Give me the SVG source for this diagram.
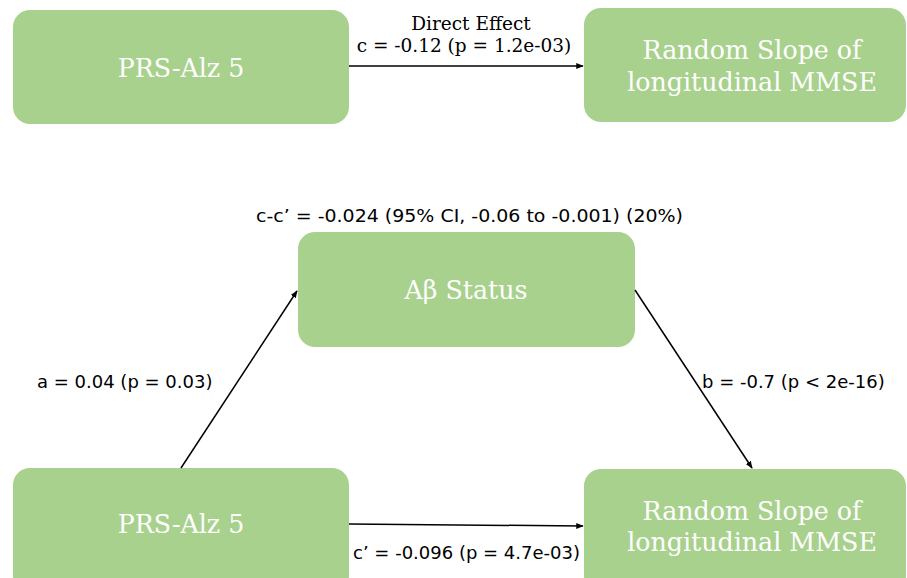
<svg xmlns="http://www.w3.org/2000/svg" width="907" height="578" viewBox="0 0 907 578">
  <style>
    .box { fill: #A9D18E; }
    .nodetext { font-family: "DejaVu Serif", "Liberation Serif", serif; font-size: 25.3px; fill: #ffffff; text-anchor: middle; }
    .edge { stroke: #000000; stroke-width: 1.5; fill: none; marker-end: url(#arrow); }
    .lbl { font-family: "DejaVu Sans", "Liberation Sans", sans-serif; font-size: 18px; fill: #000000; }
    .lblserif { font-family: "DejaVu Serif", "Liberation Serif", serif; font-size: 18.5px; fill: #000000; text-anchor: middle; }
  </style>
  <defs>
    <marker id="arrow" viewBox="0 0 10 10" refX="9" refY="5" markerWidth="5" markerHeight="5" orient="auto" markerUnits="strokeWidth">
      <path d="M0,1 L10,5 L0,9 z" fill="#000000"/>
    </marker>
  </defs>
  <rect width="907" height="578" fill="#ffffff"/>

  <!-- total effect model -->
  <g id="prs-top">
    <rect class="box" x="13" y="10" width="336" height="114" rx="17"/>
    <text class="nodetext" x="181" y="77">PRS-Alz 5</text>
  </g>
  <g id="mmse-top">
    <rect class="box" x="584" y="8" width="322" height="114" rx="17"/>
    <text class="nodetext" x="752" y="59">Random Slope of</text>
    <text class="nodetext" x="752" y="91">longitudinal MMSE</text>
  </g>

  <!-- mediation model -->
  <g id="abeta">
    <rect class="box" x="298" y="232" width="337" height="115" rx="17"/>
    <text class="nodetext" x="466" y="299">Aβ Status</text>
  </g>
  <g id="prs-bottom">
    <rect class="box" x="13" y="468" width="336" height="125" rx="17"/>
    <text class="nodetext" x="181" y="533">PRS-Alz 5</text>
  </g>
  <g id="mmse-bottom">
    <rect class="box" x="584" y="469" width="322" height="124" rx="17"/>
    <text class="nodetext" x="752" y="520">Random Slope of</text>
    <text class="nodetext" x="752" y="551">longitudinal MMSE</text>
  </g>

  <g id="connectors">
    <line class="edge" x1="349" y1="66" x2="583" y2="66"/>
    <line class="edge" x1="181" y1="468" x2="297" y2="291"/>
    <line class="edge" x1="635" y1="290" x2="752" y2="468"/>
    <line class="edge" x1="349" y1="524" x2="583" y2="526"/>
  </g>

  <g id="labels">
    <text class="lblserif" x="471" y="30">Direct Effect</text>
    <text class="lblserif" x="464" y="52">c = -0.12 (p = 1.2e-03)</text>
    <text class="lbl" x="256" y="222" textLength="427" lengthAdjust="spacingAndGlyphs">c-c’ = -0.024 (95% CI, -0.06 to -0.001) (20%)</text>
    <text class="lbl" x="37" y="388">a = 0.04 (p = 0.03)</text>
    <text class="lbl" x="702" y="388">b = -0.7 (p &lt; 2e-16)</text>
    <text class="lbl" x="353" y="559">c’ = -0.096 (p = 4.7e-03)</text>
  </g>
</svg>
